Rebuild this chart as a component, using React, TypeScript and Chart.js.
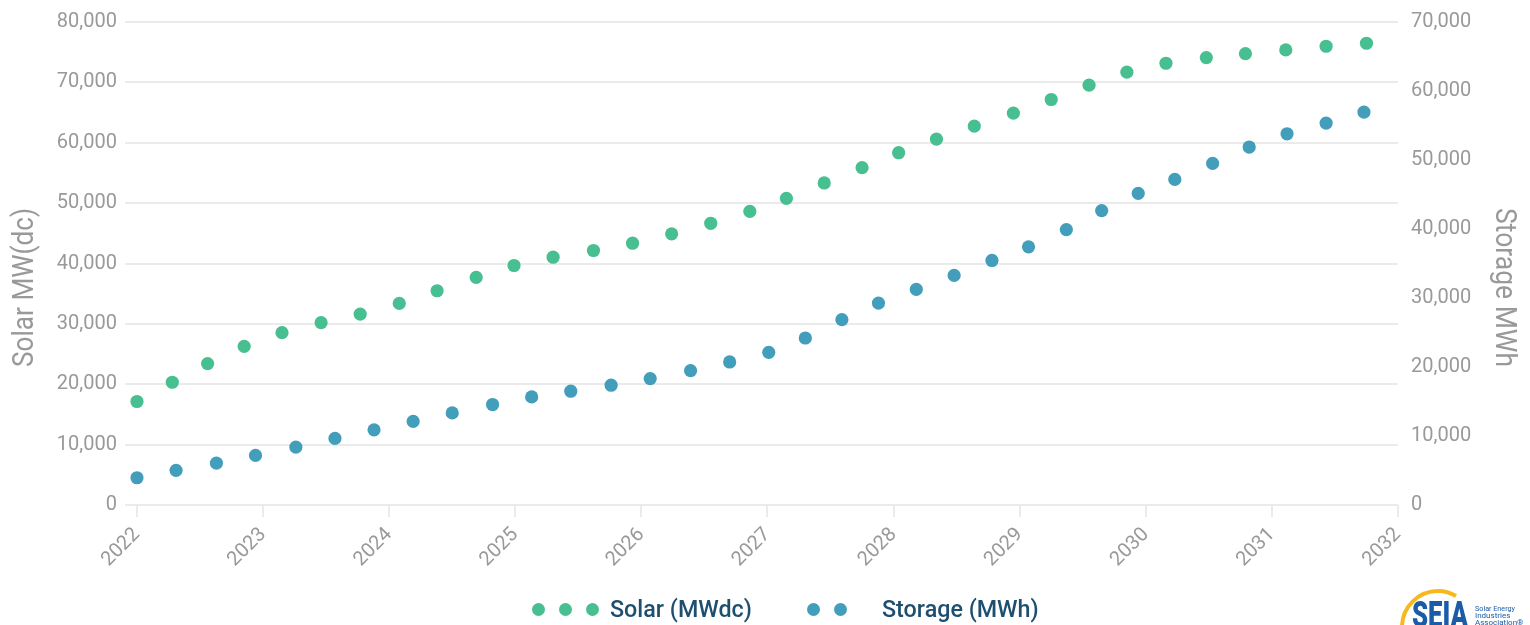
import React, { useEffect, useRef } from "react";
import { Chart, registerables } from "chart.js";

Chart.register(...registerables);

// ---- Data ----
const solarYears = [
  2022.0, 2022.28, 2022.56, 2022.85, 2023.15, 2023.46, 2023.77, 2024.08, 2024.38, 2024.69,
  2024.99, 2025.3, 2025.62, 2025.93, 2026.24, 2026.55, 2026.86, 2027.15, 2027.45, 2027.75,
  2028.04, 2028.34, 2028.64, 2028.95, 2029.25, 2029.55, 2029.85, 2030.16, 2030.48, 2030.79,
  2031.11, 2031.43, 2031.75,
];
const solarMWdc = [
  17140, 20330, 23420, 26280, 28550, 30200, 31620, 33390, 35490, 37690,
  39670, 41040, 42150, 43360, 44910, 46660, 48640, 50790, 53340, 55870,
  58350, 60610, 62760, 64910, 67160, 69540, 71690, 73170, 74100, 74760,
  75370, 75980, 76480,
];
const storageYears = [
  2022.0, 2022.31, 2022.63, 2022.94, 2023.26, 2023.57, 2023.88, 2024.19, 2024.5, 2024.82,
  2025.13, 2025.44, 2025.76, 2026.07, 2026.39, 2026.7, 2027.01, 2027.3, 2027.59, 2027.88,
  2028.18, 2028.48, 2028.78, 2029.07, 2029.37, 2029.65, 2029.94, 2030.23, 2030.53, 2030.82,
  2031.12, 2031.43, 2031.73,
];
const storageMWh = [
  3950, 5020, 6070, 7190, 8390, 9650, 10890, 12110, 13350, 14560,
  15660, 16490, 17360, 18320, 19480, 20730, 22130, 24200, 26860, 29260,
  31240, 33270, 35440, 37410, 39920, 42670, 45170, 47190, 49510, 51880,
  53800, 55350, 56940,
];
const xTickYears = [2022, 2023, 2024, 2025, 2026, 2027, 2028, 2029, 2030, 2031, 2032];
const solarAxisMax = 80000;
const storageAxisMax = 70000;
const axisStep = 10000;
const leftTitle = "Solar MW(dc)";
const rightTitle = "Storage MWh";

const SOLAR_COLOR = "#48bf91";
const STORAGE_COLOR = "#429eba";
const AXIS_TEXT = "#999999";
const GRID = "#ebebeb";
const LEGEND_TEXT = "#1e4f6e";

function fmt(v: number) {
  return Number(v).toLocaleString("en-US");
}

// Draws the two rotated axis titles a little below the plot's middle, as in the reference.
const axisTitlesPlugin = {
  id: "axisTitles",
  afterDraw(chart: any) {
    const { ctx, chartArea } = chart;
    const cy = (chartArea.top + chartArea.bottom) / 2 + 24;
    const targetLen = 159;
    const draw = (text: string, x: number, rot: number) => {
      ctx.save();
      ctx.fillStyle = AXIS_TEXT;
      ctx.font = "29px Roboto";
      ctx.textAlign = "center";
      ctx.textBaseline = "alphabetic";
      const w = ctx.measureText(text).width;
      ctx.translate(x, cy);
      ctx.rotate(rot);
      ctx.scale(targetLen / w, 1);
      ctx.fillText(text, 0, 0);
      ctx.restore();
    };
    draw(leftTitle, 33, -Math.PI / 2);
    draw(rightTitle, 1496, Math.PI / 2);
  },
};

function Logo() {
  return (
    <svg
      width={132}
      height={40}
      viewBox="0 0 132 40"
      style={{ position: "absolute", left: 1398, top: 585 }}
    >
      <path d="M 4 42 A 36 36 0 0 1 40 6 A 36 36 0 0 1 58 11" fill="none" stroke="#f6b81c" strokeWidth={4} />
      <text
        x={14}
        y={42}
        fontFamily="Roboto, sans-serif"
        fontWeight={900}
        fontSize={37}
        fill="#1a5ca8"
        textLength={56}
        lengthAdjust="spacingAndGlyphs"
      >
        SEIA
      </text>
      <text x={77} y={26} fontFamily="Roboto, sans-serif" fontSize={8} fill="#1a5ca8" textLength={40} lengthAdjust="spacingAndGlyphs">
        Solar Energy
      </text>
      <text x={77} y={33} fontFamily="Roboto, sans-serif" fontSize={8} fill="#1a5ca8">
        Industries
      </text>
      <text x={77} y={40} fontFamily="Roboto, sans-serif" fontSize={8} fill="#1a5ca8">
        Association®
      </text>
    </svg>
  );
}

function Dot({ left, color }: { left: number; color: string }) {
  return (
    <div
      style={{
        position: "absolute",
        left: left - 6.5,
        top: 609 - 6.5,
        width: 13,
        height: 13,
        borderRadius: "50%",
        background: color,
      }}
    />
  );
}

const legendTextStyle: React.CSSProperties = {
  position: "absolute",
  top: 595,
  fontFamily: "Roboto, sans-serif",
  fontWeight: 500,
  fontSize: 23.3,
  lineHeight: "28px",
  color: LEGEND_TEXT,
  whiteSpace: "nowrap",
};

export default function App() {
  const canvasRef = useRef<HTMLCanvasElement | null>(null);

  useEffect(() => {
    if (!canvasRef.current) return;
    const chart = new Chart(canvasRef.current, {
      type: "scatter",
      data: {
        datasets: [
          {
            label: "Solar (MWdc)",
            data: solarYears.map((x, i) => ({ x, y: solarMWdc[i] })),
            backgroundColor: SOLAR_COLOR,
            borderColor: SOLAR_COLOR,
            borderWidth: 0,
            pointRadius: 6.6,
            yAxisID: "y",
          },
          {
            label: "Storage (MWh)",
            data: storageYears.map((x, i) => ({ x, y: storageMWh[i] })),
            backgroundColor: STORAGE_COLOR,
            borderColor: STORAGE_COLOR,
            borderWidth: 0,
            pointRadius: 6.6,
            yAxisID: "y1",
          },
        ],
      },
      options: {
        responsive: false,
        animation: false,
        layout: { padding: { top: 22, bottom: 0, left: 0, right: 0 } },
        plugins: {
          legend: { display: false },
          tooltip: { enabled: false },
        },
        scales: {
          x: {
            type: "linear",
            min: 2021.905,
            max: 2032,
            afterBuildTicks: (scale: any) => {
              scale.ticks = xTickYears.map((v) => ({ value: v }));
            },
            afterFit: (scale: any) => {
              scale.height = 120;
            },
            ticks: {
              callback: (v: any) => String(v),
              maxRotation: 45,
              minRotation: 45,
              color: AXIS_TEXT,
              font: { family: "Roboto", size: 20 },
              padding: 6,
              autoSkip: false,
            },
            grid: {
              drawOnChartArea: false,
              drawTicks: true,
              tickLength: 12,
              color: GRID,
              lineWidth: 2,
            },
            border: { display: false },
          },
          y: {
            position: "left",
            min: 0,
            max: solarAxisMax,
            ticks: {
              stepSize: axisStep,
              callback: (v: any) => fmt(v),
              color: AXIS_TEXT,
              font: { family: "Roboto", size: 20 },
              padding: 8,
            },
            afterFit: (scale: any) => {
              scale.width = 125;
            },
            grid: { color: GRID, lineWidth: 2, drawTicks: false },
            border: { display: false },
          },
          y1: {
            position: "right",
            min: 0,
            max: storageAxisMax,
            ticks: {
              stepSize: axisStep,
              callback: (v: any) => fmt(v),
              color: AXIS_TEXT,
              font: { family: "Roboto", size: 20 },
              padding: 5,
            },
            afterFit: (scale: any) => {
              scale.width = 132;
            },
            grid: { display: false, drawOnChartArea: false },
            border: { display: false },
          },
        },
      },
      plugins: [axisTitlesPlugin],
    } as any);
    return () => chart.destroy();
  }, []);

  return (
    <div
      style={{
        position: "fixed",
        left: 0,
        top: 0,
        width: 1530,
        height: 625,
        background: "#ffffff",
        overflow: "hidden",
      }}
    >
      <canvas ref={canvasRef} width={1530} height={625} style={{ position: "absolute", left: 0, top: 0 }} />
      <Dot left={538} color={SOLAR_COLOR} />
      <Dot left={565} color={SOLAR_COLOR} />
      <Dot left={592} color={SOLAR_COLOR} />
      <div style={{ ...legendTextStyle, left: 610 }}>Solar (MWdc)</div>
      <Dot left={813} color={STORAGE_COLOR} />
      <Dot left={840} color={STORAGE_COLOR} />
      <div style={{ ...legendTextStyle, left: 882 }}>Storage (MWh)</div>
      <Logo />
    </div>
  );
}
